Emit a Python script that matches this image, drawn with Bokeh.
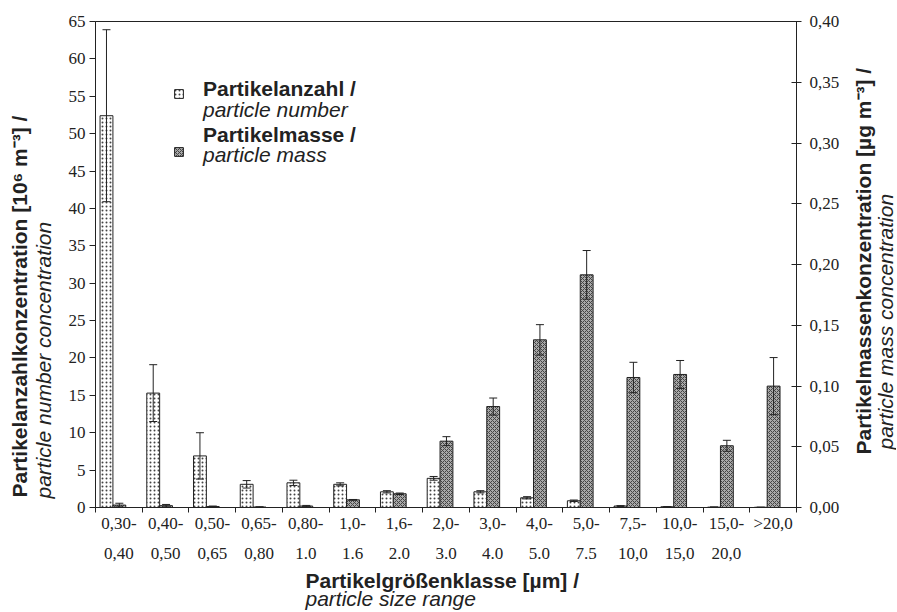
import math
from bokeh.plotting import figure
from bokeh.layouts import row
from bokeh.models import (Range1d, LinearAxis, FixedTicker, Whisker, TeeHead,
                          ColumnDataSource, Legend, LegendItem, Label, Title)
from bokeh.transform import dodge
from bokeh.embed import file_html
from bokeh.resources import INLINE

# ---------------- data ----------------
size_from = ["0,30-", "0,40-", "0,50-", "0,65-", "0,80-", "1,0-", "1,6-", "2,0-",
             "3,0-", "4,0-", "5,0-", "7,5-", "10,0-", "15,0-", ">20,0"]
size_to = ["0,40", "0,50", "0,65", "0,80", "1.0", "1.6", "2.0", "3.0",
           "4.0", "5.0", "7.5", "10,0", "15,0", "20,0", " "]
number_conc = [52.4, 15.3, 6.9, 3.1, 3.3, 3.1, 2.1, 3.9, 2.1, 1.3, 0.9, 0.2, 0.1, 0.05, 0.03]
number_err = [11.5, 3.8, 3.1, 0.5, 0.35, 0.2, 0.15, 0.25, 0.15, 0.15, 0.1, 0.05, 0.03, 0.02, 0.01]
mass_conc = [0.002, 0.0015, 0.0008, 0.0004, 0.0012, 0.0063, 0.0113, 0.0546, 0.0831,
             0.138, 0.1915, 0.107, 0.1095, 0.0508, 0.0999]
mass_err = [0.0015, 0.001, 0.0004, 0.0002, 0.0005, 0.0003, 0.0006, 0.0037, 0.007,
            0.0125, 0.02, 0.0125, 0.0115, 0.0045, 0.0235]
number_ticks = [0, 5, 10, 15, 20, 25, 30, 35, 40, 45, 50, 55, 60, 65]
mass_ticks = [0.0, 0.05, 0.1, 0.15, 0.2, 0.25, 0.3, 0.35, 0.4]
mass_tick_labels = ["0,00", "0,05", "0,10", "0,15", "0,20", "0,25", "0,30", "0,35", "0,40"]

x_title = "Partikelgrößenklasse [µm]  /"
x_subtitle = "particle size range"
yl_title = "Partikelanzahlkonzentration [10⁶ m⁻³]  /"
yl_subtitle = "particle number concentration"
yr_title = "Partikelmassenkonzentration [µg m⁻³]  /"
yr_subtitle = "particle mass concentration"
legend_titles = ["Partikelanzahl  /", "Partikelmasse  /"]
legend_subtitles = ["particle number", "particle mass"]

n = len(size_from)
centers = [i + 0.5 for i in range(n)]
bounds = list(range(n + 1))

src = ColumnDataSource(dict(
    c=centers,
    num=number_conc,
    num_lo=[v - e for v, e in zip(number_conc, number_err)],
    num_hi=[v + e for v, e in zip(number_conc, number_err)],
    mass=mass_conc,
    mass_lo=[v - e for v, e in zip(mass_conc, mass_err)],
    mass_hi=[v + e for v, e in zip(mass_conc, mass_err)],
))

INK = "#222222"
SERIF = "Liberation Serif"
SANS = "Liberation Sans"
TICK_FS = "17px"
TITLE_FS = "21px"
UP = math.pi / 2   # text reading bottom-to-top

H = 611
FRAME_TOP, FRAME_BOTTOM = 21, 507
LW, MW, RW = 60, 782, 54   # left title strip, main chart, right title strip

p = figure(width=MW, height=H, output_backend="svg", toolbar_location=None,
           x_range=Range1d(0, n), y_range=Range1d(0, 65),
           min_border_left=35, min_border_right=44, min_border_top=FRAME_TOP,
           min_border_bottom=H - FRAME_BOTTOM)
p.extra_y_ranges = {"mass": Range1d(0, 0.40)}
p.xgrid.visible = False
p.ygrid.visible = False
p.outline_line_color = INK
p.background_fill_color = "white"

NUM_OFF, MASS_OFF, BW = -0.265, 0.01, 0.275

r_num = p.vbar(x=dodge("c", NUM_OFF, range=p.x_range), top="num", width=BW, source=src,
               fill_color="white", line_color=INK, line_width=1,
               hatch_pattern="dot", hatch_scale=4, hatch_color="#444444", hatch_weight=1)
r_mass = p.vbar(x=dodge("c", MASS_OFF, range=p.x_range), top="mass", width=BW, source=src,
                y_range_name="mass",
                fill_color="#a9a9a9", line_color=INK, line_width=1,
                hatch_pattern="diagonal_cross", hatch_scale=4, hatch_color="#444444", hatch_weight=1)

w_num = Whisker(base=dodge("c", NUM_OFF, range=p.x_range), upper="num_hi", lower="num_lo",
                source=src, line_color=INK, line_width=1, level="overlay",
                upper_head=TeeHead(size=8, line_color=INK, line_width=1),
                lower_head=TeeHead(size=8, line_color=INK, line_width=1))
w_mass = Whisker(base=dodge("c", MASS_OFF, range=p.x_range), upper="mass_hi", lower="mass_lo",
                 source=src, y_range_name="mass", line_color=INK, line_width=1, level="overlay",
                 upper_head=TeeHead(size=8, line_color=INK, line_width=1),
                 lower_head=TeeHead(size=8, line_color=INK, line_width=1))
p.add_layout(w_num)
p.add_layout(w_mass)

# ---------------- x axes ----------------
xa1 = p.xaxis[0]
xa1.ticker = FixedTicker(ticks=centers, minor_ticks=bounds)
xa1.major_label_overrides = dict(zip(centers, size_from))
xa1.major_tick_line_color = None
xa1.major_tick_in = 0
xa1.major_tick_out = 0
xa1.minor_tick_in = 0
xa1.minor_tick_out = 5
xa1.minor_tick_line_color = INK
xa1.axis_line_color = INK
xa1.major_label_standoff = 1
xa1.major_label_text_font = SERIF
xa1.major_label_text_font_size = TICK_FS
xa1.major_label_text_color = INK

xa2 = LinearAxis(ticker=FixedTicker(ticks=centers),
                 major_label_overrides=dict(zip(centers, size_to)),
                 axis_line_color=None, major_tick_line_color=None, minor_tick_line_color=None,
                 major_tick_in=0, major_tick_out=0, major_label_standoff=8,
                 major_label_text_font=SERIF, major_label_text_font_size=TICK_FS,
                 major_label_text_color=INK)
p.add_layout(xa2, "below")
p.add_layout(Title(text=x_title, align="left", offset=210, standoff=2,
                   text_font=SANS, text_font_size=TITLE_FS, text_font_style="bold",
                   text_color=INK), "below")
p.add_layout(Title(text=x_subtitle, align="left", offset=210, standoff=-16,
                   text_font=SANS, text_font_size=TITLE_FS, text_font_style="italic",
                   text_color=INK), "below")

# ---------------- left axis ----------------
ya = p.yaxis[0]
ya.ticker = FixedTicker(ticks=number_ticks)
ya.major_tick_in = 0
ya.major_tick_out = 6
ya.minor_tick_line_color = None
ya.axis_line_color = INK
ya.major_tick_line_color = INK
ya.major_label_standoff = 4
ya.major_label_text_font = SERIF
ya.major_label_text_font_size = TICK_FS
ya.major_label_text_color = INK

# ---------------- right axis ----------------
yr = LinearAxis(y_range_name="mass", ticker=FixedTicker(ticks=mass_ticks),
                major_label_overrides=dict(zip(mass_ticks, mass_tick_labels)),
                major_tick_in=5, major_tick_out=5, minor_tick_line_color=None,
                axis_line_color=INK, major_tick_line_color=INK, major_label_standoff=8,
                major_label_text_font=SERIF, major_label_text_font_size=TICK_FS,
                major_label_text_color=INK)
p.add_layout(yr, "right")

# ---------------- legend ----------------
legend = Legend(items=[LegendItem(label=" ", renderers=[r_num]),
                       LegendItem(label=" ", renderers=[r_mass])],
                location=(78, 350), orientation="vertical",
                glyph_width=11, glyph_height=11, label_height=11, label_width=0,
                label_standoff=0, spacing=47, padding=0, margin=0,
                border_line_color=None, background_fill_alpha=0,
                label_text_font_size="1px")
p.add_layout(legend)

for txt, ly, style in [(legend_titles[0], 56.0, "bold"),
                       (legend_subtitles[0], 53.19, "italic"),
                       (legend_titles[1], 49.89, "bold"),
                       (legend_subtitles[1], 47.17, "italic")]:
    p.add_layout(Label(x=2.30, y=ly, text=txt, text_font=SANS, text_font_size=TITLE_FS,
                       text_font_style=style, text_color=INK, text_baseline="alphabetic"))


# ---------------- rotated axis titles in narrow side strips ----------------
# The strips' frames are aligned with the main frame by the row layout,
# so their y range is expressed in page pixels of that frame.
def title_strip(x0, x1):
    f = figure(width=x1 - x0, height=H, output_backend="svg", toolbar_location=None,
               x_range=Range1d(x0, x1), y_range=Range1d(FRAME_BOTTOM, FRAME_TOP),
               x_axis_location=None, y_axis_location=None, min_border=0)
    f.outline_line_color = None
    f.background_fill_color = "white"
    f.grid.visible = False
    return f


def vtitle(fig, txt, xb, ystart, style):
    fig.add_layout(Label(x=xb, y=ystart, text=txt, angle=UP, text_align="left",
                         text_baseline="alphabetic", text_font=SANS,
                         text_font_size=TITLE_FS, text_font_style=style, text_color=INK))


pl = title_strip(0, LW)
vtitle(pl, yl_title, 19, 497, "bold")
vtitle(pl, yl_subtitle, 42.5, 498, "italic")

pr = title_strip(LW + MW, LW + MW + RW)
vtitle(pr, yr_title, 863, 454, "bold")
vtitle(pr, yr_subtitle, 885, 449, "italic")

layout = row(pl, p, pr)
open("out.html", "w").write(file_html(layout, INLINE))
